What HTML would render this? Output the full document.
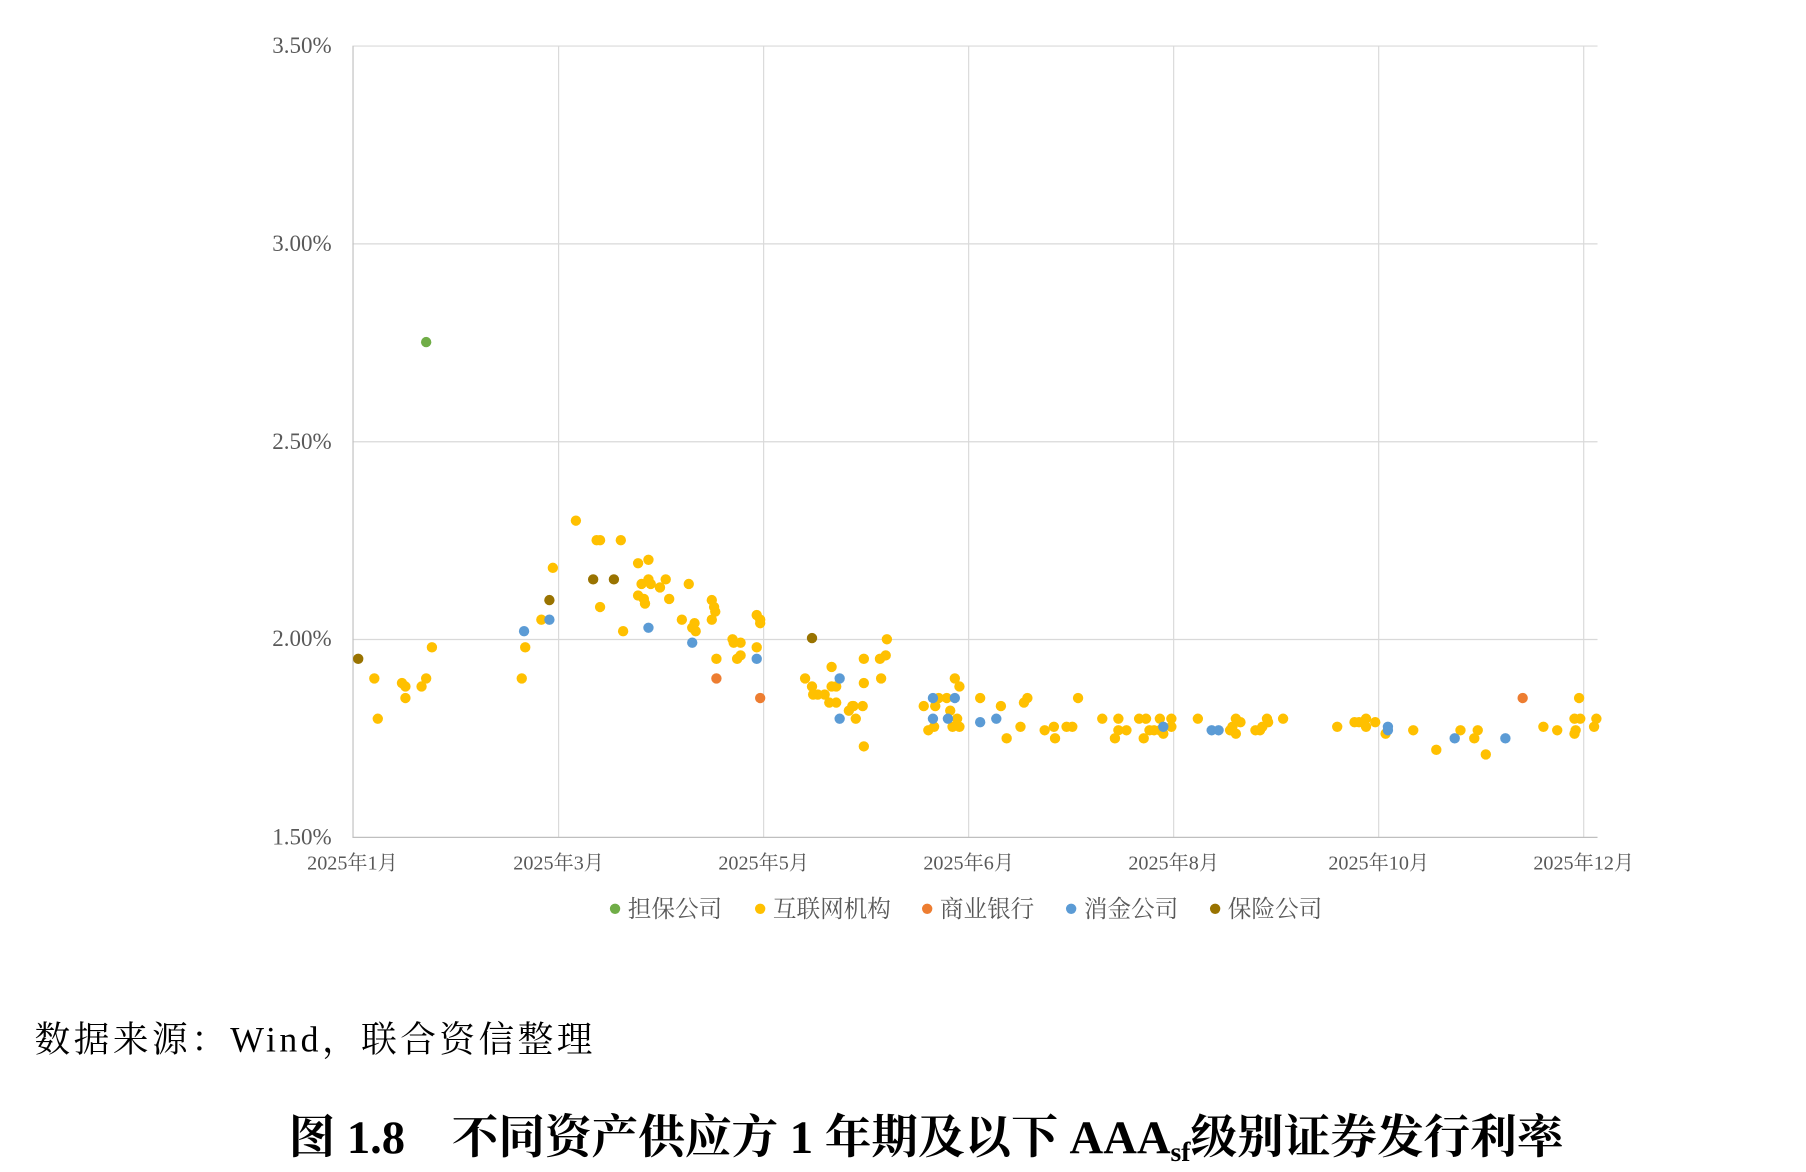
<!DOCTYPE html>
<html><head><meta charset="utf-8"><style>html,body{margin:0;padding:0;background:#fff;}svg{display:block}</style></head>
<body>
<svg width="1806" height="1172" viewBox="0 0 1568 1017.5" xmlns="http://www.w3.org/2000/svg">
<g stroke="#d9d9d9" stroke-width="1">
<line x1="306" y1="40" x2="1387" y2="40"/><line x1="306" y1="211.7" x2="1387" y2="211.7"/><line x1="306" y1="383.5" x2="1387" y2="383.5"/><line x1="306" y1="555.2" x2="1387" y2="555.2"/>
<line x1="485" y1="40" x2="485" y2="727"/><line x1="663" y1="40" x2="663" y2="727"/><line x1="841" y1="40" x2="841" y2="727"/><line x1="1019" y1="40" x2="1019" y2="727"/><line x1="1197" y1="40" x2="1197" y2="727"/><line x1="1375" y1="40" x2="1375" y2="727"/>
<line x1="306.5" y1="40" x2="306.5" y2="727" stroke="#bfbfbf"/><line x1="306" y1="727" x2="1387" y2="727" stroke="#bfbfbf"/>
</g>
<g font-family="Liberation Serif, Noto Serif CJK SC, serif" font-size="20" fill="#595959" text-anchor="end">
<text x="288" y="46">3.50%</text><text x="288" y="218">3.00%</text><text x="288" y="390">2.50%</text><text x="288" y="561">2.00%</text><text x="288" y="733">1.50%</text>
</g>
<g font-family="Liberation Serif, Noto Serif CJK SC, serif" font-size="17.5" fill="#595959" text-anchor="middle">
<text x="306" y="755">2025年1月</text><text x="485" y="755">2025年3月</text><text x="663" y="755">2025年5月</text><text x="841" y="755">2025年6月</text><text x="1019" y="755">2025年8月</text><text x="1197" y="755">2025年10月</text><text x="1375" y="755">2025年12月</text>
</g>
<g fill="#FFC000">
<circle cx="325" cy="589" r="4.5"/><circle cx="328" cy="624" r="4.5"/><circle cx="349" cy="593" r="4.5"/><circle cx="352" cy="596" r="4.5"/><circle cx="352" cy="606" r="4.5"/><circle cx="366" cy="596" r="4.5"/><circle cx="370" cy="589" r="4.5"/><circle cx="375" cy="562" r="4.5"/>
<circle cx="453" cy="589" r="4.5"/><circle cx="456" cy="562" r="4.5"/><circle cx="470" cy="538" r="4.5"/><circle cx="480" cy="493" r="4.5"/><circle cx="500" cy="452" r="4.5"/><circle cx="518" cy="469" r="4.5"/><circle cx="521" cy="469" r="4.5"/><circle cx="521" cy="527" r="4.5"/><circle cx="539" cy="469" r="4.5"/><circle cx="541" cy="548" r="4.5"/><circle cx="554" cy="489" r="4.5"/><circle cx="554" cy="517" r="4.5"/><circle cx="557" cy="507" r="4.5"/><circle cx="559" cy="520" r="4.5"/><circle cx="560" cy="524" r="4.5"/><circle cx="563" cy="486" r="4.5"/><circle cx="563" cy="503" r="4.5"/><circle cx="565" cy="507" r="4.5"/><circle cx="573" cy="510" r="4.5"/><circle cx="578" cy="503" r="4.5"/><circle cx="581" cy="520" r="4.5"/><circle cx="592" cy="538" r="4.5"/><circle cx="598" cy="507" r="4.5"/><circle cx="601" cy="545" r="4.5"/><circle cx="603" cy="541" r="4.5"/><circle cx="604" cy="548" r="4.5"/><circle cx="618" cy="521" r="4.5"/><circle cx="618" cy="538" r="4.5"/><circle cx="621" cy="531" r="4.5"/><circle cx="620" cy="527" r="4.5"/><circle cx="622" cy="572" r="4.5"/><circle cx="636" cy="555" r="4.5"/><circle cx="637" cy="558" r="4.5"/><circle cx="640" cy="572" r="4.5"/><circle cx="643" cy="558" r="4.5"/><circle cx="643" cy="569" r="4.5"/><circle cx="657" cy="534" r="4.5"/><circle cx="657" cy="562" r="4.5"/><circle cx="660" cy="538" r="4.5"/><circle cx="660" cy="541" r="4.5"/>
<circle cx="699" cy="589" r="4.5"/><circle cx="705" cy="596" r="4.5"/><circle cx="706" cy="603" r="4.5"/><circle cx="710" cy="603" r="4.5"/><circle cx="716" cy="603" r="4.5"/><circle cx="720" cy="610" r="4.5"/><circle cx="722" cy="579" r="4.5"/><circle cx="722" cy="596" r="4.5"/><circle cx="726" cy="610" r="4.5"/><circle cx="726" cy="596" r="4.5"/><circle cx="737" cy="617" r="4.5"/><circle cx="740" cy="613" r="4.5"/><circle cx="741" cy="613" r="4.5"/><circle cx="743" cy="624" r="4.5"/><circle cx="749" cy="613" r="4.5"/><circle cx="750" cy="572" r="4.5"/><circle cx="750" cy="593" r="4.5"/><circle cx="750" cy="648" r="4.5"/><circle cx="764" cy="572" r="4.5"/><circle cx="765" cy="589" r="4.5"/><circle cx="769" cy="569" r="4.5"/><circle cx="770" cy="555" r="4.5"/>
<circle cx="802" cy="613" r="4.5"/><circle cx="806" cy="634" r="4.5"/><circle cx="811" cy="631" r="4.5"/><circle cx="812" cy="613" r="4.5"/><circle cx="815" cy="606" r="4.5"/><circle cx="822" cy="606" r="4.5"/><circle cx="825" cy="617" r="4.5"/><circle cx="827" cy="631" r="4.5"/><circle cx="829" cy="589" r="4.5"/><circle cx="831" cy="624" r="4.5"/><circle cx="833" cy="596" r="4.5"/><circle cx="833" cy="631" r="4.5"/><circle cx="851" cy="606" r="4.5"/><circle cx="869" cy="613" r="4.5"/><circle cx="874" cy="641" r="4.5"/><circle cx="886" cy="631" r="4.5"/><circle cx="889" cy="610" r="4.5"/><circle cx="892" cy="606" r="4.5"/><circle cx="907" cy="634" r="4.5"/><circle cx="915" cy="631" r="4.5"/><circle cx="916" cy="641" r="4.5"/><circle cx="926" cy="631" r="4.5"/><circle cx="931" cy="631" r="4.5"/><circle cx="936" cy="606" r="4.5"/><circle cx="957" cy="624" r="4.5"/><circle cx="968" cy="641" r="4.5"/><circle cx="971" cy="624" r="4.5"/><circle cx="971" cy="634" r="4.5"/><circle cx="978" cy="634" r="4.5"/><circle cx="989" cy="624" r="4.5"/><circle cx="993" cy="641" r="4.5"/><circle cx="995" cy="624" r="4.5"/><circle cx="998" cy="634" r="4.5"/><circle cx="1002" cy="634" r="4.5"/><circle cx="1007" cy="624" r="4.5"/><circle cx="1007" cy="634" r="4.5"/><circle cx="1010" cy="637" r="4.5"/><circle cx="1017" cy="624" r="4.5"/><circle cx="1017" cy="631" r="4.5"/><circle cx="1040" cy="624" r="4.5"/><circle cx="1068" cy="634" r="4.5"/><circle cx="1070" cy="631" r="4.5"/><circle cx="1073" cy="624" r="4.5"/><circle cx="1073" cy="637" r="4.5"/><circle cx="1077" cy="627" r="4.5"/><circle cx="1090" cy="634" r="4.5"/><circle cx="1094" cy="634" r="4.5"/><circle cx="1096" cy="631" r="4.5"/><circle cx="1100" cy="624" r="4.5"/><circle cx="1101" cy="627" r="4.5"/><circle cx="1114" cy="624" r="4.5"/><circle cx="1161" cy="631" r="4.5"/><circle cx="1176" cy="627" r="4.5"/><circle cx="1180" cy="627" r="4.5"/><circle cx="1186" cy="624" r="4.5"/><circle cx="1186" cy="631" r="4.5"/><circle cx="1194" cy="627" r="4.5"/><circle cx="1203" cy="637" r="4.5"/><circle cx="1227" cy="634" r="4.5"/><circle cx="1247" cy="651" r="4.5"/><circle cx="1268" cy="634" r="4.5"/><circle cx="1280" cy="641" r="4.5"/><circle cx="1283" cy="634" r="4.5"/><circle cx="1290" cy="655" r="4.5"/><circle cx="1340" cy="631" r="4.5"/><circle cx="1352" cy="634" r="4.5"/><circle cx="1367" cy="624" r="4.5"/><circle cx="1367" cy="637" r="4.5"/><circle cx="1368" cy="634" r="4.5"/><circle cx="1371" cy="606" r="4.5"/><circle cx="1372" cy="624" r="4.5"/><circle cx="1384" cy="631" r="4.5"/><circle cx="1386" cy="624" r="4.5"/>
</g>
<g fill="#5B9BD5">
<circle cx="455" cy="548" r="4.5"/><circle cx="477" cy="538" r="4.5"/><circle cx="563" cy="545" r="4.5"/><circle cx="601" cy="558" r="4.5"/><circle cx="657" cy="572" r="4.5"/><circle cx="729" cy="589" r="4.5"/><circle cx="729" cy="624" r="4.5"/><circle cx="810" cy="606" r="4.5"/><circle cx="810" cy="624" r="4.5"/><circle cx="823" cy="624" r="4.5"/><circle cx="829" cy="606" r="4.5"/><circle cx="851" cy="627" r="4.5"/><circle cx="865" cy="624" r="4.5"/><circle cx="1010" cy="631" r="4.5"/><circle cx="1052" cy="634" r="4.5"/><circle cx="1058" cy="634" r="4.5"/><circle cx="1205" cy="631" r="4.5"/><circle cx="1205" cy="634" r="4.5"/><circle cx="1263" cy="641" r="4.5"/><circle cx="1307" cy="641" r="4.5"/>
</g>
<g fill="#ED7D31"><circle cx="622" cy="589" r="4.5"/><circle cx="660" cy="606" r="4.5"/><circle cx="1322" cy="606" r="4.5"/></g>
<g fill="#997300"><circle cx="311" cy="572" r="4.5"/><circle cx="477" cy="521" r="4.5"/><circle cx="515" cy="503" r="4.5"/><circle cx="533" cy="503" r="4.5"/><circle cx="705" cy="554" r="4.5"/></g>
<circle cx="370" cy="297" r="4.5" fill="#70AD47"/>
<g font-family="Liberation Serif, Noto Serif CJK SC, serif" font-size="20.5" fill="#595959">
<circle cx="534" cy="789" r="4.5" fill="#70AD47"/><text x="545" y="796">担保公司</text>
<circle cx="660" cy="789" r="4.5" fill="#FFC000"/><text x="671" y="796">互联网机构</text>
<circle cx="805" cy="789" r="4.5" fill="#ED7D31"/><text x="816" y="796">商业银行</text>
<circle cx="930" cy="789" r="4.5" fill="#5B9BD5"/><text x="941" y="796">消金公司</text>
<circle cx="1055" cy="789" r="4.5" fill="#997300"/><text x="1066" y="796">保险公司</text>
</g>
<text x="30" y="913" font-family="Liberation Serif, Noto Serif CJK SC, serif" font-size="31" fill="#000" letter-spacing="3">数据来源：Wind，联合资信整理</text>
<text x="804" y="1001" text-anchor="middle" font-family="Liberation Serif, Noto Serif CJK SC, serif" font-size="40.5" font-weight="bold" fill="#000">图 1.8　不同资产供应方 1 年期及以下 AAA<tspan font-size="24" dy="7">sf</tspan><tspan dy="-7">级别证券发行利率</tspan></text>
</svg>
</body></html>
